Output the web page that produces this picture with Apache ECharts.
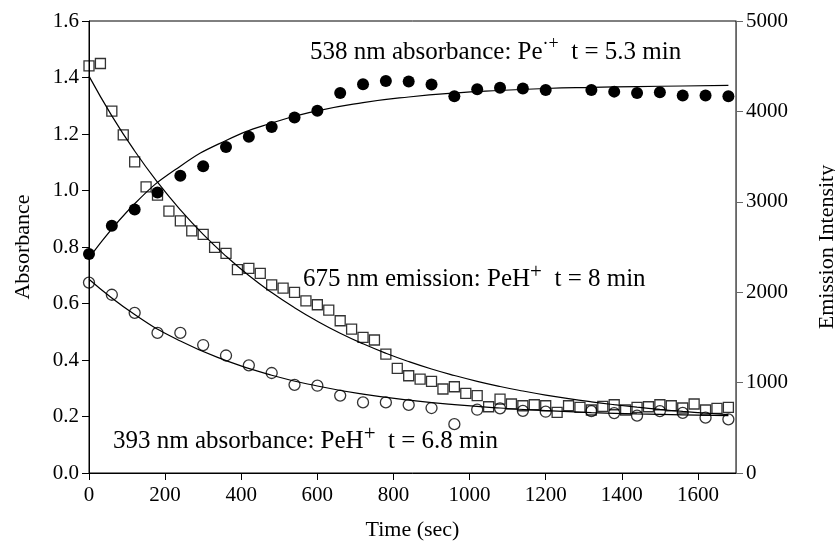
<!DOCTYPE html>
<html><head><meta charset="utf-8">
<script src="https://cdn.jsdelivr.net/npm/echarts@6/dist/echarts.min.js"></script>
<style>html,body{margin:0;padding:0;background:#fff}#c{width:835px;height:544px}</style>
</head><body><div id="c"></div>
<script>
// ---- data ----
const absTime = [0,60,120,180,240,300,360,420,480,540,600,660,720,780,840,900,960,1020,1080,1140,1200,1320,1380,1440,1500,1560,1620,1680];
const abs538 = [0.775,0.875,0.933,0.993,1.052,1.086,1.154,1.190,1.225,1.258,1.282,1.345,1.376,1.388,1.386,1.375,1.334,1.358,1.364,1.361,1.356,1.356,1.350,1.345,1.348,1.336,1.336,1.334];
const abs393 = [0.674,0.631,0.567,0.496,0.496,0.453,0.416,0.381,0.354,0.312,0.309,0.274,0.250,0.250,0.241,0.230,0.173,0.224,0.229,0.220,0.217,0.219,0.212,0.203,0.219,0.213,0.196,0.190];
const emTime = [0,30,60,90,120,150,180,210,240,270,300,330,360,390,420,450,480,510,540,570,600,630,660,690,720,750,780,810,840,870,900,930,960,990,1020,1050,1080,1110,1140,1170,1200,1230,1260,1290,1320,1350,1380,1410,1440,1470,1500,1530,1560,1590,1620,1650,1680];
const em675 = [4503,4530,4003,3741,3442,3166,3074,2897,2790,2679,2639,2496,2429,2250,2263,2208,2082,2046,1998,1905,1861,1802,1684,1592,1500,1471,1316,1158,1076,1039,1014,929,954,881,855,733,818,763,744,755,744,671,744,726,697,737,755,697,726,733,755,744,719,763,697,715,726];
const fitAbsTime = [0,120,240,360,480,600,720,840,960,1080,1200,1320,1440,1560,1680];
const fit538 = [0.760,0.953,1.086,1.177,1.239,1.282,1.311,1.331,1.345,1.354,1.361,1.365,1.368,1.370,1.372];
const fit393 = [0.686,0.561,0.467,0.398,0.346,0.308,0.279,0.258,0.242,0.230,0.221,0.214,0.209,0.206,0.203];
const fitEmTime = [0,60,120,180,240,300,360,420,480,540,600,660,720,780,840,900,960,1020,1080,1140,1200,1260,1320,1380,1440,1500,1560,1620,1680];
const fit675 = [4390,3951,3562,3217,2911,2639,2399,2185,1996,1828,1679,1546,1429,1325,1233,1151,1079,1014,957,907,862,822,787,756,728,703,681,662,645];
const xTicks = [0,200,400,600,800,1000,1200,1400,1600];
const leftTicks = [0,0.2,0.4,0.6,0.8,1.0,1.2,1.4,1.6];
const rightTicks = [0,1000,2000,3000,4000,5000];

const zip = (a,b) => a.map((v,i)=>[v,b[i]]);
const FONT = 'Liberation Serif';
const chart = echarts.init(document.getElementById('c'), null, {renderer:'canvas'});
const axisCommon = {
  axisLine:{show:true,lineStyle:{color:'#000',width:1}},
  axisTick:{show:true,inside:false,length:7,lineStyle:{color:'#000'}},
  splitLine:{show:false},
  axisLabel:{color:'#000',fontFamily:FONT,fontSize:21},
  nameTextStyle:{color:'#000',fontFamily:FONT,fontSize:22}
};
chart.setOption({
  animation:false,
  backgroundColor:'#fff',
  grid:{left:89,right:99,top:21,bottom:71,containLabel:false,outerBoundsMode:'none',show:true,borderColor:'#000',borderWidth:1,backgroundColor:'transparent'},
  xAxis:{type:'value',min:0,max:1700,interval:200,...axisCommon,
    axisTick:{...axisCommon.axisTick,customValues:xTicks},
    axisLabel:{...axisCommon.axisLabel,margin:12,formatter:v=>String(v),customValues:xTicks},
    name:'Time (sec)',nameLocation:'middle',nameGap:46},
  yAxis:[
    {type:'value',min:0,max:1.6,interval:0.2,position:'left',...axisCommon,
      axisLabel:{...axisCommon.axisLabel,margin:10,formatter:v=>v.toFixed(1),customValues:leftTicks},
      axisTick:{...axisCommon.axisTick,customValues:leftTicks},
      name:'Absorbance',nameLocation:'middle',nameGap:55},
    {type:'value',min:0,max:5000,interval:1000,position:'right',...axisCommon,
      axisLine:{show:true,lineStyle:{color:'#666',width:1}},
      axisTick:{show:true,length:7,lineStyle:{color:'#666'},customValues:rightTicks},
      axisLabel:{...axisCommon.axisLabel,margin:10,formatter:v=>String(v),customValues:rightTicks},
      name:'Emission Intensity',nameLocation:'middle',nameGap:80,nameRotate:90}
  ],
  series:[
    {type:'scatter',yAxisIndex:1,data:zip(emTime,em675),symbol:'rect',symbolSize:10,
      itemStyle:{color:'rgba(0,0,0,0)',borderColor:'#000',borderWidth:1.3},z:2},
    {type:'line',yAxisIndex:1,data:zip(fitEmTime,fit675),smooth:true,showSymbol:false,
      lineStyle:{color:'#000',width:1.2},z:3},
    {type:'scatter',yAxisIndex:0,data:zip(absTime,abs393),symbol:'circle',symbolSize:11,
      itemStyle:{color:'rgba(0,0,0,0)',borderColor:'#000',borderWidth:1.3},z:4},
    {type:'line',yAxisIndex:0,data:zip(fitAbsTime,fit393),smooth:true,showSymbol:false,
      lineStyle:{color:'#000',width:1.2},z:5},
    {type:'scatter',yAxisIndex:0,data:zip(absTime,abs538),symbol:'circle',symbolSize:12,
      itemStyle:{color:'#000',borderColor:'#000',borderWidth:0,opacity:1},z:6},
    {type:'line',yAxisIndex:0,data:zip(fitAbsTime,fit538),smooth:true,showSymbol:false,
      lineStyle:{color:'#000',width:1.2},z:7}
  ],
  graphic:[
    {type:'text',x:310,y:52,style:{text:'538 nm absorbance: Pe{s|·+}{t|  t = 5.3 min}',fontFamily:FONT,fontSize:25,fill:'#000',verticalAlign:'middle',
      rich:{s:{fontFamily:FONT,fontSize:18,verticalAlign:'top',lineHeight:17},t:{fontFamily:FONT,fontSize:25,lineHeight:34}}},z:100},
    {type:'text',x:303,y:279,style:{text:'675 nm emission: PeH{s|+}{t|  t = 8 min}',fontFamily:FONT,fontSize:25,fill:'#000',verticalAlign:'middle',
      rich:{s:{fontFamily:FONT,fontSize:21,verticalAlign:'top',lineHeight:17},t:{fontFamily:FONT,fontSize:25,lineHeight:34}}},z:100},
    {type:'text',x:113,y:441,style:{text:'393 nm absorbance: PeH{s|+}{t|  t = 6.8 min}',fontFamily:FONT,fontSize:25,fill:'#000',verticalAlign:'middle',
      rich:{s:{fontFamily:FONT,fontSize:21,verticalAlign:'top',lineHeight:17},t:{fontFamily:FONT,fontSize:25,lineHeight:34}}},z:100}
  ]
});
</script></body></html>
